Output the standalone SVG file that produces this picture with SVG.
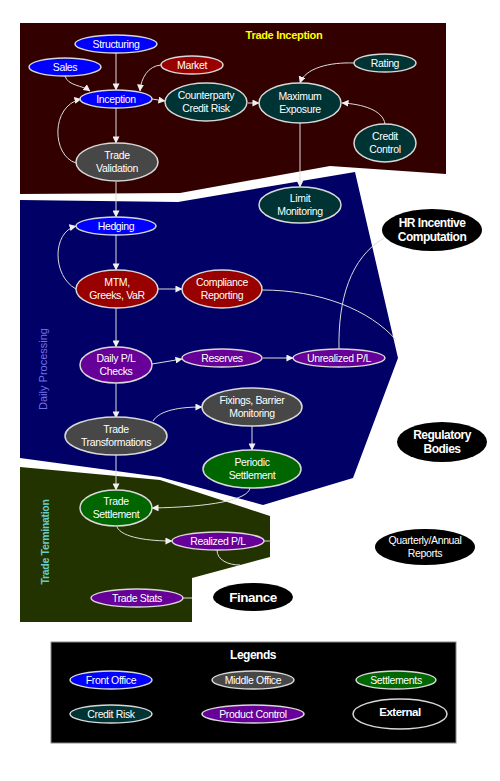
<svg xmlns="http://www.w3.org/2000/svg" width="500" height="781" viewBox="0 0 500 781">
<style>
.n{stroke:#d8d8d8;stroke-width:1.5}
.fo{fill:#0000ff}.mo{fill:#474747}.se{fill:#006600}.cr{fill:#003333}.pc{fill:#660099}.rd{fill:#990000}.ex{fill:#000}
.t{font-family:"Liberation Sans",Arial,sans-serif;font-size:10.5px;fill:#fff;text-anchor:middle;letter-spacing:-0.35px}
.b{font-family:"Liberation Sans",Arial,sans-serif;font-weight:bold;font-size:12px;fill:#fff;text-anchor:middle;letter-spacing:-0.5px}
.c{fill:none;stroke:#dcdcdc;stroke-width:1}
.ca{fill:none;stroke:#dcdcdc;stroke-width:1;marker-end:url(#a)}
</style>
<defs>
<marker id="a" viewBox="0 0 8 8" refX="7.5" refY="4" markerWidth="7" markerHeight="7" markerUnits="userSpaceOnUse" orient="auto"><path d="M0,0 L8,4 L0,8 z" fill="#f0f0f0"/></marker>
</defs>
<rect width="500" height="781" fill="#fff"/>
<g id="regions">
<polygon points="20,23 446,23 446,174 330,166 180,193 20,194" fill="#330000"/>
<polygon points="20,200 178,202 355,172 398,358 353,478 263,505 160,477 20,458" fill="#000066"/>
<polygon points="20,467 160,480 270,516 270,557 192,578 192,622 20,622" fill="#233300"/>
<text x="284" y="39" font-family="'Liberation Sans',Arial,sans-serif" font-weight="bold" font-size="11" fill="#ffff00" text-anchor="middle" letter-spacing="-0.3">Trade Inception</text>
<text transform="translate(47,369) rotate(-90)" font-family="'Liberation Sans',Arial,sans-serif" font-size="11" fill="#7070f0" text-anchor="middle">Daily Processing</text>
<text transform="translate(49,542) rotate(-90)" font-family="'Liberation Sans',Arial,sans-serif" font-weight="bold" font-size="10.5" fill="#66cccc" text-anchor="middle" letter-spacing="-0.3">Trade Termination</text>
</g>
<g id="connectors">
<path class="ca" d="M116,53 L116,90"/>
<path class="ca" d="M65,76 C68,86 82,85 90,91"/>
<path class="ca" d="M161,65 C148,66 141,78 140,91"/>
<path class="ca" d="M152,99 L165,101"/>
<path class="ca" d="M116,108 L116,143"/>
<path class="ca" d="M76,163 C52,156 50,106 81,99"/>
<path class="ca" d="M248,103 L259,103"/>
<path class="ca" d="M354,63 C330,62 305,68 300,83"/>
<path class="ca" d="M385,124 C383,110 362,104 342,103"/>
<path class="ca" d="M300,123 L300,187"/>
<path class="ca" d="M116,182 L116,217"/>
<path class="ca" d="M76,289 C52,276 52,232 76,226"/>
<path class="ca" d="M116,235 L116,270"/>
<path class="ca" d="M157,289 L182,289"/>
<path class="ca" d="M116,308 L116,347"/>
<path class="ca" d="M152,364 L182,359"/>
<path class="ca" d="M263,358 L293,358"/>
<path class="c" d="M262,290 C320,290 370,310 396,340"/>
<path class="c" d="M339,349 C338,300 350,258 384,238"/>
<path class="ca" d="M116,383 L116,418"/>
<path class="ca" d="M153,421 C160,410 180,407 202,407"/>
<path class="ca" d="M252,426 L252,450"/>
<path class="ca" d="M116,455 L116,490"/>
<path class="ca" d="M250,488 C248,500 210,507 152,508"/>
<path class="ca" d="M117,527 C122,538 150,541 172,541"/>
<path class="c" d="M264,541 L271,541"/>
<path class="c" d="M217,550 C217,560 228,565 240,565"/>
<path class="c" d="M183,598 L192,598"/>
</g>
<g id="structuring"><ellipse class="n fo" cx="116" cy="44" rx="41" ry="9"/><text class="t" x="116" y="47.5">Structuring</text></g>
<g id="sales"><ellipse class="n fo" cx="65" cy="67" rx="36" ry="9"/><text class="t" x="65" y="70.5">Sales</text></g>
<g id="market"><ellipse class="n rd" cx="192" cy="65" rx="31" ry="9"/><text class="t" x="192" y="68.5">Market</text></g>
<g id="inception"><ellipse class="n fo" cx="116" cy="99" rx="36" ry="9"/><text class="t" x="116" y="102.5">Inception</text></g>
<g id="counterparty"><ellipse class="n cr" cx="206" cy="102" rx="41" ry="19"/><text class="t" x="206" y="99">Counterparty</text><text class="t" x="206" y="112">Credit Risk</text></g>
<g id="validation"><ellipse class="n mo" cx="117" cy="162" rx="41" ry="19"/><text class="t" x="117" y="159">Trade</text><text class="t" x="117" y="172">Validation</text></g>
<g id="maxexposure"><ellipse class="n cr" cx="300" cy="103" rx="41" ry="20"/><text class="t" x="300" y="100">Maximum</text><text class="t" x="300" y="113">Exposure</text></g>
<g id="rating"><ellipse class="n cr" cx="385" cy="63" rx="31" ry="9"/><text class="t" x="385" y="66.5">Rating</text></g>
<g id="creditcontrol"><ellipse class="n cr" cx="385" cy="143" rx="31" ry="19"/><text class="t" x="385" y="140">Credit</text><text class="t" x="385" y="153">Control</text></g>
<g id="limit"><ellipse class="n cr" cx="300" cy="205" rx="41" ry="18"/><text class="t" x="300" y="202">Limit</text><text class="t" x="300" y="215">Monitoring</text></g>
<g id="hr"><ellipse class="ex" cx="432" cy="230" rx="50" ry="21"/><text class="b" x="432" y="227">HR Incentive</text><text class="b" x="432" y="241">Computation</text></g>
<g id="hedging"><ellipse class="n fo" cx="116" cy="226" rx="40" ry="9"/><text class="t" x="116" y="229.5">Hedging</text></g>
<g id="mtm"><ellipse class="n rd" cx="117" cy="289" rx="41" ry="19"/><text class="t" x="117" y="286">MTM,</text><text class="t" x="117" y="299">Greeks, VaR</text></g>
<g id="compliance"><ellipse class="n rd" cx="222" cy="289" rx="40" ry="19"/><text class="t" x="222" y="286">Compliance</text><text class="t" x="222" y="299">Reporting</text></g>
<g id="dailypl"><ellipse class="n pc" cx="116" cy="365" rx="36" ry="18"/><text class="t" x="116" y="362">Daily P/L</text><text class="t" x="116" y="375">Checks</text></g>
<g id="reserves"><ellipse class="n pc" cx="222" cy="358" rx="40" ry="9"/><text class="t" x="222" y="361.5">Reserves</text></g>
<g id="unrealized"><ellipse class="n pc" cx="339" cy="358" rx="46" ry="9"/><text class="t" x="339" y="361.5">Unrealized P/L</text></g>
<g id="fixings"><ellipse class="n mo" cx="252" cy="407" rx="50" ry="19"/><text class="t" x="252" y="404">Fixings, Barrier</text><text class="t" x="252" y="417">Monitoring</text></g>
<g id="transformations"><ellipse class="n mo" cx="116" cy="436" rx="51" ry="19"/><text class="t" x="116" y="433">Trade</text><text class="t" x="116" y="446">Transformations</text></g>
<g id="periodic"><ellipse class="n se" cx="252" cy="469" rx="49" ry="19"/><text class="t" x="252" y="466">Periodic</text><text class="t" x="252" y="479">Settlement</text></g>
<g id="regulatory"><ellipse class="ex" cx="442" cy="442" rx="45" ry="20"/><text class="b" x="442" y="439">Regulatory</text><text class="b" x="442" y="453">Bodies</text></g>
<g id="tradesettlement"><ellipse class="n se" cx="116" cy="508" rx="36" ry="18"/><text class="t" x="116" y="505">Trade</text><text class="t" x="116" y="518">Settlement</text></g>
<g id="realized"><ellipse class="n pc" cx="218" cy="541" rx="46" ry="9"/><text class="t" x="218" y="544.5">Realized P/L</text></g>
<g id="quarterly"><ellipse class="ex" cx="425" cy="547" rx="50" ry="18"/><text class="t" x="425" y="544">Quarterly/Annual</text><text class="t" x="425" y="557">Reports</text></g>
<g id="tradestats"><ellipse class="n pc" cx="137" cy="598" rx="46" ry="9"/><text class="t" x="137" y="601.5">Trade Stats</text></g>
<g id="finance"><ellipse class="ex" cx="253" cy="597" rx="40" ry="14"/><text class="b" x="253" y="602" style="font-size:13.5px">Finance</text></g>
<g id="legend">
<rect x="51" y="642" width="405" height="101" fill="#000" stroke="#888" stroke-width="1"/>
<text class="b" x="253" y="659">Legends</text>
<g id="lg-fo"><ellipse class="n fo" cx="111" cy="680" rx="41" ry="9"/><text class="t" x="111" y="683.5">Front Office</text></g>
<g id="lg-mo"><ellipse class="n mo" cx="253" cy="680" rx="41" ry="9"/><text class="t" x="253" y="683.5">Middle Office</text></g>
<g id="lg-se"><ellipse class="n se" cx="396" cy="680" rx="40" ry="9"/><text class="t" x="396" y="683.5">Settlements</text></g>
<g id="lg-cr"><ellipse class="n cr" cx="111" cy="714" rx="41" ry="9"/><text class="t" x="111" y="717.5">Credit Risk</text></g>
<g id="lg-pc"><ellipse class="n pc" cx="253" cy="714" rx="51" ry="9"/><text class="t" x="253" y="717.5">Product Control</text></g>
<g id="lg-ex"><ellipse class="n ex" cx="400" cy="714" rx="47" ry="15"/><text class="b" x="400" y="716" style="font-size:11.5px">External</text></g>
</g>
</svg>
